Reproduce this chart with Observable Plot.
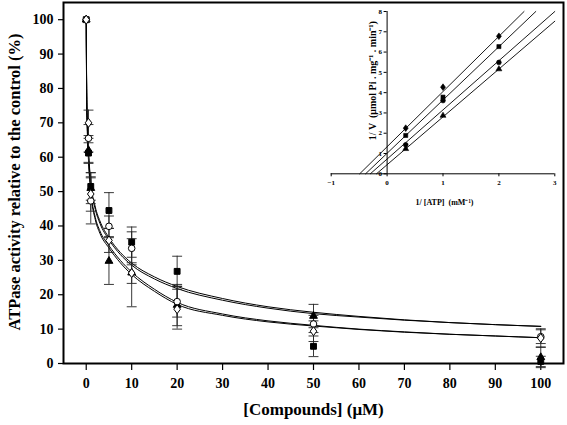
<!DOCTYPE html>
<html><head><meta charset="utf-8">
<script src="https://cdn.jsdelivr.net/npm/d3@7"></script>
<script src="https://cdn.jsdelivr.net/npm/@observablehq/plot@0.6"></script>
<style>
body{margin:0;background:#fff;}
#wrap{position:relative;width:567px;height:425px;}
#inset{position:absolute;left:300px;top:0;width:267px;height:220px;}
</style></head><body>
<div id="wrap"><div id="main"></div><div id="inset"></div></div>
<script>
// ---------- main chart data ----------
const conc = [0, 0.5, 1, 5, 10, 20, 50, 100];
const squareMean   = [100, 61.2, 51.5, 44.5, 35.3, 26.8, 5.0, 0.6];
const squareErr    = [0, 3.0, 4.0, 5.2, 4.4, 4.4, 3.0, 1.5];
const circleMean   = [100, 65.5, 47.3, 39.9, 33.5, 18.0, 11.5, 7.8];
const circleErr    = [0, 4.0, 6.7, 3.0, 4.8, 4.5, 2.5, 2.0];
const triangleMean = [100, 62.0, 51.0, 29.8, 26.4, 17.0, 13.8, 1.8];
const triangleErr  = [0, 3.5, 4.5, 6.8, 9.9, 6.0, 3.4, 3.0];
const diamondMean  = [100, 70.0, 49.3, 35.8, 26.3, 15.8, 9.4, 7.4];
const diamondErr   = [0, 3.7, 5.0, 3.5, 3.0, 5.8, 3.0, 2.7];

// fitted curves
const fitConc   = [0, 0.1, 0.25, 0.5, 1, 2, 3, 5, 7.5, 10, 15, 20, 30, 40, 50, 60, 70, 80, 90, 100];
const fitUpperA = [100, 80, 70, 62, 53, 45.5, 41.5, 36.6, 32.3, 29.2, 25.2, 22.4, 18.9, 16.5, 14.9, 13.7, 12.7, 11.9, 11.3, 10.8];
const fitUpperB = [100, 79, 69, 61, 52.2, 44.8, 40.8, 36.0, 31.7, 28.6, 24.6, 21.8, 18.4, 16.1, 14.5, 13.5, 12.6, 11.9, 11.3, 10.8];
const fitLowerA = [100, 78, 68, 60, 50.5, 42.5, 38.6, 34.3, 30.0, 26.6, 21.6, 17.8, 14.4, 12.4, 11.1, 10.0, 9.2, 8.5, 8.0, 7.5];
const fitLowerB = [100, 77, 67, 59, 49.8, 41.8, 37.9, 33.6, 29.3, 25.9, 21.0, 17.2, 14.0, 12.1, 10.9, 9.9, 9.1, 8.5, 8.0, 7.5];

const xTicks = [0, 10, 20, 30, 40, 50, 60, 70, 80, 90, 100];
const yTicks = [0, 10, 20, 30, 40, 50, 60, 70, 80, 90, 100];
const xLabel = "[Compounds] (μM)";
const yLabel = "ATPase activity relative to the control (%)";

// ---------- inset data ----------
const invATP = [0.333, 1, 2];
const invVDiamond  = [2.25, 4.27, 6.78];
const invVSquare   = [1.89, 3.78, 6.27];
const invVCircle   = [1.43, 3.61, 5.49];
const invVTriangle = [1.23, 2.87, 5.16];
const lineDiamondX  = [-0.49, 2.45], lineDiamondY  = [0, 8];
const lineSquareX   = [-0.385, 2.66], lineSquareY  = [0, 8];
const lineCircleX   = [-0.30, 3.0], lineCircleY    = [0, 8];
const lineTriangleX = [-0.19, 3.0], lineTriangleY  = [0, 7.52];
const insetXTicks = [-1, 0, 1, 2, 3];
const insetYTicks = [0, 1, 2, 3, 4, 5, 6, 7, 8];
const insetXLabel = "1/ [ATP]  (mM⁻¹)";
const insetYLabel = "1/ V  (μmol Pi . mg⁻¹ . min⁻¹)";

// ---------- helpers ----------
const serif = "'Liberation Serif','Times New Roman',Times,serif";
const diamondSym = {draw(ctx, size){ const h = 0.7*Math.sqrt(size), w = 0.74*h;
  ctx.moveTo(0,-h); ctx.lineTo(w,0); ctx.lineTo(0,h); ctx.lineTo(-w,0); ctx.closePath(); }};
const capSym = {draw(ctx, size){ const w = 0.7*Math.sqrt(size); ctx.moveTo(-w,0); ctx.lineTo(w,0); }};

const series = [
  {name:"square",   mean:squareMean,   err:squareErr,   symbol:"square",   fill:"black", r:3.3},
  {name:"triangle", mean:triangleMean, err:triangleErr, symbol:"triangle", fill:"black", r:2.9},
  {name:"circle",   mean:circleMean,   err:circleErr,   symbol:"circle",   fill:"white", r:3.3},
  {name:"diamond",  mean:diamondMean,  err:diamondErr,  symbol:diamondSym, fill:"white", r:3.6}
];
const pts = series.flatMap(s => conc.map((c,i)=>({c, v:s.mean[i], e:s.err[i], s:s.name})));
const errPts = pts.filter(d => d.e > 0);
const caps = errPts.flatMap(d => [{c:d.c, v:d.v + d.e}, {c:d.c, v:d.v - d.e}]);
const fits = [["ua",fitUpperA],["ub",fitUpperB],["la",fitLowerA],["lb",fitLowerB]]
  .flatMap(([k,arr]) => fitConc.map((c,i)=>({c, v:arr[i], k})));

const W = 567, H = 425, mL = 63, mR = 4, mT = 2, mB = 62;

const main = Plot.plot({
  width: W, height: H, marginLeft: mL, marginRight: mR, marginTop: mT, marginBottom: mB,
  style: {fontFamily: serif, fontWeight: "bold", fontSize: "14px", background: "white", color: "black", overflow: "visible"},
  x: {domain: [-5, 105]},
  y: {domain: [0, 105]},
  marks: [
    Plot.axisX({ticks: xTicks, tickSize: 7, tickPadding: 8, fontSize: 14, label: null, strokeWidth: 1.2}),
    Plot.axisY({ticks: yTicks, tickSize: 5, tickPadding: 5, fontSize: 14, label: null, strokeWidth: 1.2}),
    Plot.line(fits, {x: "c", y: "v", z: "k", curve: "monotone-x", stroke: "black", strokeWidth: 1}),
    Plot.ruleX(errPts, {x: "c", y1: d => d.v - d.e, y2: d => d.v + d.e, stroke: "#222", strokeWidth: 0.9}),
    Plot.dot(caps, {x: "c", y: "v", symbol: capSym, r: 4, stroke: "#222", strokeWidth: 0.9, fill: "none"}),
    ...series.map(s => Plot.dot(pts.filter(d => d.s === s.name), {x: "c", y: "v", symbol: s.symbol, r: s.r, fill: s.fill, stroke: "black", strokeWidth: 1})),
    Plot.frame({stroke: "black", strokeWidth: 2}),
    Plot.text([xLabel], {frameAnchor: "bottom", dy: 46, lineAnchor: "middle", textAnchor: "middle", fontSize: 17, fontWeight: "bold"}),
    Plot.text([yLabel], {frameAnchor: "left", dx: -49, dy: -1, rotate: -90, lineAnchor: "middle", textAnchor: "middle", fontSize: 16.5, fontWeight: "bold"})
  ]
});
document.getElementById("main").append(main);

// ---------- inset ----------
const iW = 267, iH = 220, iL = 30.7, iR = 12.7, iT = 11, iB = 46.7;
const insetXDomain = [-1, 3], insetYDomain = [0, 8];
const ixs = d3.scaleLinear().domain(insetXDomain).range([iL, iW - iR]);
const yAxisShift = ixs(0) - ixs(insetXDomain[0]);
const insetSeries = [
  {name:"diamond",  y:invVDiamond,  lx:lineDiamondX,  ly:lineDiamondY,  symbol:diamondSym, r:2.7},
  {name:"square",   y:invVSquare,   lx:lineSquareX,   ly:lineSquareY,   symbol:"square",   r:2.3},
  {name:"circle",   y:invVCircle,   lx:lineCircleX,   ly:lineCircleY,   symbol:"circle",   r:2.4},
  {name:"triangle", y:invVTriangle, lx:lineTriangleX, ly:lineTriangleY, symbol:"triangle", r:2.2}
];
const iPts = insetSeries.flatMap(s => invATP.map((x,i)=>({x, y:s.y[i], s:s.name})));
const iLines = insetSeries.flatMap(s => s.lx.map((x,i)=>({x, y:s.ly[i], s:s.name})));

const inset = Plot.plot({
  width: iW, height: iH, marginLeft: iL, marginRight: iR, marginTop: iT, marginBottom: iB,
  style: {fontFamily: serif, fontWeight: "bold", fontSize: "7px", background: "transparent", color: "black", overflow: "visible"},
  x: {domain: insetXDomain},
  y: {domain: insetYDomain},
  marks: [
    Plot.ruleY([insetYDomain[0]], {stroke: "black", strokeWidth: 1}),
    Plot.ruleX([0], {y1: insetYDomain[0], y2: insetYDomain[1], stroke: "black", strokeWidth: 1}),
    Plot.axisX({ticks: insetXTicks, tickFormat: d3.format("d"), tickSize: 3, tickPadding: 3, fontSize: 7, label: null}),
    Plot.axisY({ticks: insetYTicks, tickFormat: d3.format("d"), tickSize: 3, tickPadding: 2, fontSize: 7, label: null, dx: yAxisShift}),
    Plot.line(iLines, {x: "x", y: "y", z: "s", stroke: "black", strokeWidth: 0.9, clip: false}),
    ...insetSeries.map(s => Plot.dot(iPts.filter(d => d.s === s.name), {x: "x", y: "y", symbol: s.symbol, r: s.r, fill: "black", stroke: "black", strokeWidth: 0.6})),
    Plot.text([insetXLabel], {frameAnchor: "bottom", dy: 29, lineAnchor: "middle", textAnchor: "middle", fontSize: 8, fontWeight: "bold", dx: 1.5}),
    Plot.text([insetYLabel], {frameAnchor: "left", dx: yAxisShift - 14.6, dy: -12, rotate: -90, lineAnchor: "middle", textAnchor: "middle", fontSize: 10, fontWeight: "bold"})
  ]
});
document.getElementById("inset").append(inset);
</script>
</body></html>
